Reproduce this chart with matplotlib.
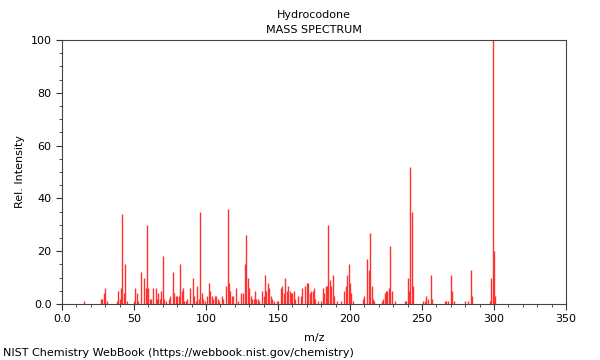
import matplotlib
matplotlib.use('Agg')
import matplotlib.pyplot as plt
import matplotlib.ticker as mticker

# === Data (m/z, relative intensity) ===
mz = [15, 27, 28, 29, 30, 31, 38, 39, 40, 41, 42, 43, 44, 45,
      50, 51, 52, 53, 55, 57, 58, 59, 60, 61, 62, 63, 65, 66, 67, 68, 69, 70, 71, 72,
      74, 75, 77, 78, 79, 80, 81, 82, 83, 84, 85, 86, 87, 89, 91, 92, 93, 94, 95, 96, 97, 98, 99,
      101, 102, 103, 104, 105, 106, 107, 108, 109, 111, 112, 114, 115, 116, 117, 118, 119,
      121, 122, 124, 126, 127, 128, 129, 130, 131, 132, 133, 134, 135, 136, 137, 139, 140,
      141, 142, 143, 144, 145, 146, 147, 149, 150, 152, 153, 154, 155, 156, 157, 158, 159, 160,
      161, 162, 164, 166, 167, 169, 170, 171, 172, 173, 174, 175, 176, 178, 180,
      181, 182, 183, 184, 185, 186, 187, 188, 189, 191, 194, 196, 197, 198, 199, 200, 201, 202,
      209, 210, 212, 213, 214, 215, 216, 217, 222, 223, 224, 225, 226, 227, 228, 229, 231,
      238, 239, 240, 241, 242, 243, 244, 251, 252, 253, 254, 256, 257,
      266, 267, 268, 270, 271, 272, 280, 282, 284, 285, 297, 298, 299, 300, 301]
intensity = [1, 2, 2, 4, 6, 1, 1, 5, 2, 6, 34, 4, 15, 1,
             1, 6, 4, 1, 12, 10, 6, 30, 6, 2, 2, 6, 6, 2, 4, 2, 5, 18, 2, 1,
             2, 3, 12, 4, 3, 3, 3, 15, 5, 6, 1, 1, 2, 6, 10, 3, 1, 7, 2, 35, 4, 2, 1,
             3, 8, 5, 3, 2, 3, 3, 2, 1, 3, 2, 7, 36, 8, 5, 3, 3,
             6, 1, 4, 4, 15, 26, 10, 6, 3, 2, 2, 5, 2, 2, 1, 5, 3,
             11, 5, 8, 6, 3, 2, 1, 1, 1, 6, 7, 4, 10, 5, 7, 5, 4, 4,
             5, 2, 3, 3, 6, 7, 8, 8, 4, 5, 5, 6, 2, 1, 1,
             6, 4, 7, 7, 30, 9, 7, 11, 3, 1, 1, 5, 7, 11, 15, 8, 4, 1,
             2, 3, 17, 13, 27, 7, 2, 1, 1, 2, 4, 5, 5, 6, 22, 5, 1,
             1, 1, 10, 5, 52, 35, 7, 1, 1, 3, 2, 11, 2,
             1, 1, 1, 11, 5, 1, 1, 1, 13, 3, 1, 10, 100, 20, 3]

title = 'Hydrocodone\nMASS SPECTRUM'
footer = 'NIST Chemistry WebBook (https://webbook.nist.gov/chemistry)'

# === Figure ===
fig = plt.figure(figsize=(6, 3.6), dpi=100)
ax = fig.add_axes([62 / 600, 56 / 360, 504 / 600, 264 / 360])

ax.vlines(mz, 0, intensity, color='#ff3030', linewidth=1.0)

ax.set_xlim(0, 350)
ax.set_ylim(0, 100)
ax.xaxis.set_major_locator(mticker.MultipleLocator(50))
ax.xaxis.set_minor_locator(mticker.MultipleLocator(10))
ax.yaxis.set_major_locator(mticker.MultipleLocator(20))
ax.yaxis.set_minor_locator(mticker.MultipleLocator(5))
ax.xaxis.set_major_formatter(mticker.FuncFormatter(lambda v, p: '0.0' if v == 0 else '%d' % v))
ax.yaxis.set_major_formatter(mticker.FuncFormatter(lambda v, p: '0.0' if v == 0 else '%d' % v))
ax.tick_params(labelsize=8, length=4, width=0.8, color='#333333')
ax.tick_params(which='minor', length=2, color='#333333')
for s in ax.spines.values():
    s.set_color('#444444')
    s.set_linewidth(0.8)

ax.set_xlabel('m/z', fontsize=8, labelpad=6)
ax.set_ylabel('Rel. Intensity', fontsize=8)
ax.set_title(title, fontsize=8, linespacing=1.6, pad=5)
fig.text(3 / 600, 1 - 353 / 360, footer, fontsize=8, va='center', ha='left')

fig.savefig('out.png', dpi=100)
